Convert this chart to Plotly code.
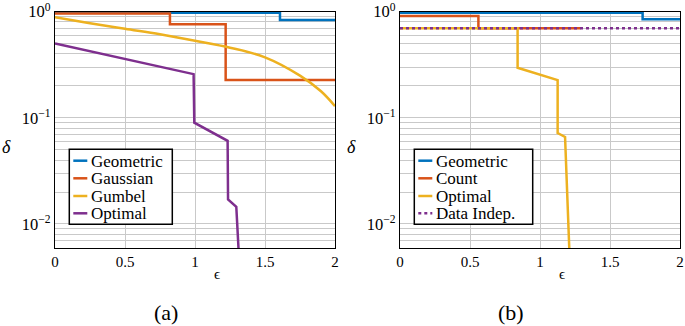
import plotly.graph_objects as go

W, H = 685, 326

# ---------------- data ----------------
# panel (a)
geo_a_x = [0, 1.607, 2]
geo_a_y = [0.98, 0.835, 0.835]
gauss_x = [0, 0.821, 1.219, 2]
gauss_y = [0.96, 0.76, 0.227, 0.227]
gumbel_x = [0, 0.25, 0.5, 0.75, 1.0, 1.25, 1.5, 1.75, 1.9, 2.0]
gumbel_y = [0.885, 0.78, 0.69, 0.612, 0.532, 0.458, 0.372, 0.25, 0.178, 0.129]
opt_a_x = [0, 0.99, 0.995, 1.233, 1.236, 1.295, 1.312]
opt_a_y = [0.503, 0.258, 0.09, 0.0607, 0.017, 0.0145, 0.0055]

# panel (b)
geo_b_x = [0, 1.733, 2]
geo_b_y = [0.98, 0.848, 0.848]
count_x = [0, 0.56, 1.29]
count_y = [0.91, 0.70, 0.70]
opt_b_x = [0, 0.84, 0.84, 1.126, 1.126, 1.179, 1.21]
opt_b_y = [0.70, 0.70, 0.296, 0.227, 0.072, 0.066, 0.0055]
indep_x = [0, 2]
indep_y = [0.70, 0.70]

x_ticks = [0, 0.5, 1, 1.5, 2]
x_tick_labels = ["0", "0.5", "1", "1.5", "2"]
y_ticks = [0.01, 0.1, 1]
y_tick_labels = ["10<sup>−2</sup>", "10<sup>−1</sup>", "10<sup>0</sup>"]

legend_a = ["Geometric", "Gaussian", "Gumbel", "Optimal"]
legend_b = ["Geometric", "Count", "Optimal", "Data Indep."]

BLUE, RED, YELLOW, PURPLE = "#0072BD", "#D95319", "#EDB120", "#7E2F8E"
FONT = "Liberation Serif"
LW = 2.5

fig = go.Figure()

def add(x, y, color, xa, ya, shape="linear", dash="solid"):
    fig.add_trace(go.Scatter(x=x, y=y, mode="lines", xaxis=xa, yaxis=ya,
                             line=dict(color=color, width=LW, shape=shape, dash=dash),
                             showlegend=False, hoverinfo="skip"))

add(geo_a_x, geo_a_y, BLUE, "x", "y", "hv")
add(gauss_x, gauss_y, RED, "x", "y", "hv")
add(gumbel_x, gumbel_y, YELLOW, "x", "y", "spline")
add(opt_a_x, opt_a_y, PURPLE, "x", "y")

add(geo_b_x, geo_b_y, BLUE, "x2", "y2", "hv")
add(count_x, count_y, RED, "x2", "y2", "hv")
add(opt_b_x, opt_b_y, YELLOW, "x2", "y2")
add(indep_x, indep_y, PURPLE, "x2", "y2", dash="dot")

minor_vals = [m * 10 ** e for e in (-3, -2, -1) for m in range(2, 10)]
GRID = "#c9c9c9"

def px(x):
    return x / W

def py(y):
    return 1 - y / H

ydom = [py(248.3), py(11.7)]
xdom1 = [px(55), px(335)]
xdom2 = [px(400), px(680)]

xa_common = dict(range=[0, 2], tickvals=x_ticks, ticktext=x_tick_labels, automargin=False,
                 ticklabeloverflow="allow",
                 showgrid=True, gridcolor=GRID, gridwidth=1, zeroline=False,
                 showline=True, linecolor="black", linewidth=1.3, mirror=True,
                 ticks="", tickfont=dict(family=FONT, size=15, color="black"))
ya_common = dict(type="log", range=[-2.229, 0], tickvals=y_ticks, ticktext=y_tick_labels,
                 automargin=False, ticklabeloverflow="allow",
                 showgrid=True, gridcolor=GRID, gridwidth=1, zeroline=False,
                 showline=True, linecolor="black", linewidth=1.3, mirror=True,
                 ticks="", tickfont=dict(family=FONT, size=16.5, color="black"),
                 minor=dict(tickvals=minor_vals, showgrid=True, gridcolor=GRID, gridwidth=1, ticks=""))

fig.update_layout(
    width=W, height=H, margin=dict(l=0, r=0, t=0, b=0, autoexpand=False),
    paper_bgcolor="white", plot_bgcolor="white",
    font=dict(family=FONT, color="black"),
    xaxis=dict(domain=xdom1, anchor="y", **xa_common),
    yaxis=dict(domain=ydom, anchor="x", **ya_common),
    xaxis2=dict(domain=xdom2, anchor="y2", **xa_common),
    yaxis2=dict(domain=ydom, anchor="x2", **ya_common),
)

shapes = []
annotations = []

def legend(x0, x1, labels, colors, dashes):
    y0, y1 = 149.3, 224.3
    shapes.append(dict(type="rect", xref="paper", yref="paper",
                       x0=px(x0), x1=px(x1), y0=py(y1), y1=py(y0),
                       line=dict(color="black", width=1.5), fillcolor="white", layer="above"))
    rows = [160.7, 178.3, 196.0, 213.3]
    for r, lab, c, d in zip(rows, labels, colors, dashes):
        shapes.append(dict(type="line", xref="paper", yref="paper",
                           x0=px(x0 + 4), x1=px(x0 + 18), y0=py(r), y1=py(r),
                           line=dict(color=c, width=LW, dash=d), layer="above"))
        annotations.append(dict(xref="paper", yref="paper", x=px(x0 + 20), y=py(r + 0.5),
                                xanchor="left", yanchor="middle", showarrow=False,
                                text=lab, font=dict(family=FONT, size=17, color="black")))

legend(69.3, 172.3, legend_a, [BLUE, RED, YELLOW, PURPLE], ["solid"] * 4)
legend(414.3, 532.7, legend_b, [BLUE, RED, YELLOW, PURPLE], ["solid", "solid", "solid", "dot"])

def text(x, y, s, size, italic=False):
    annotations.append(dict(xref="paper", yref="paper", x=px(x), y=py(y),
                            xanchor="center", yanchor="middle", showarrow=False,
                            text=f"<i>{s}</i>" if italic else s,
                            font=dict(family=FONT, size=size, color="black")))

text(217, 274, "ϵ", 15)
text(562, 274, "ϵ", 15)
text(6, 147, "δ", 18, italic=True)
text(351, 147, "δ", 18, italic=True)
text(166, 312, "(a)", 22)
text(511, 312, "(b)", 22)

fig.update_layout(shapes=shapes, annotations=annotations)
fig.write_html("out.html", config={"displayModeBar": False},
               post_script="document.body.style.margin='0';document.body.style.overflow='hidden';")
